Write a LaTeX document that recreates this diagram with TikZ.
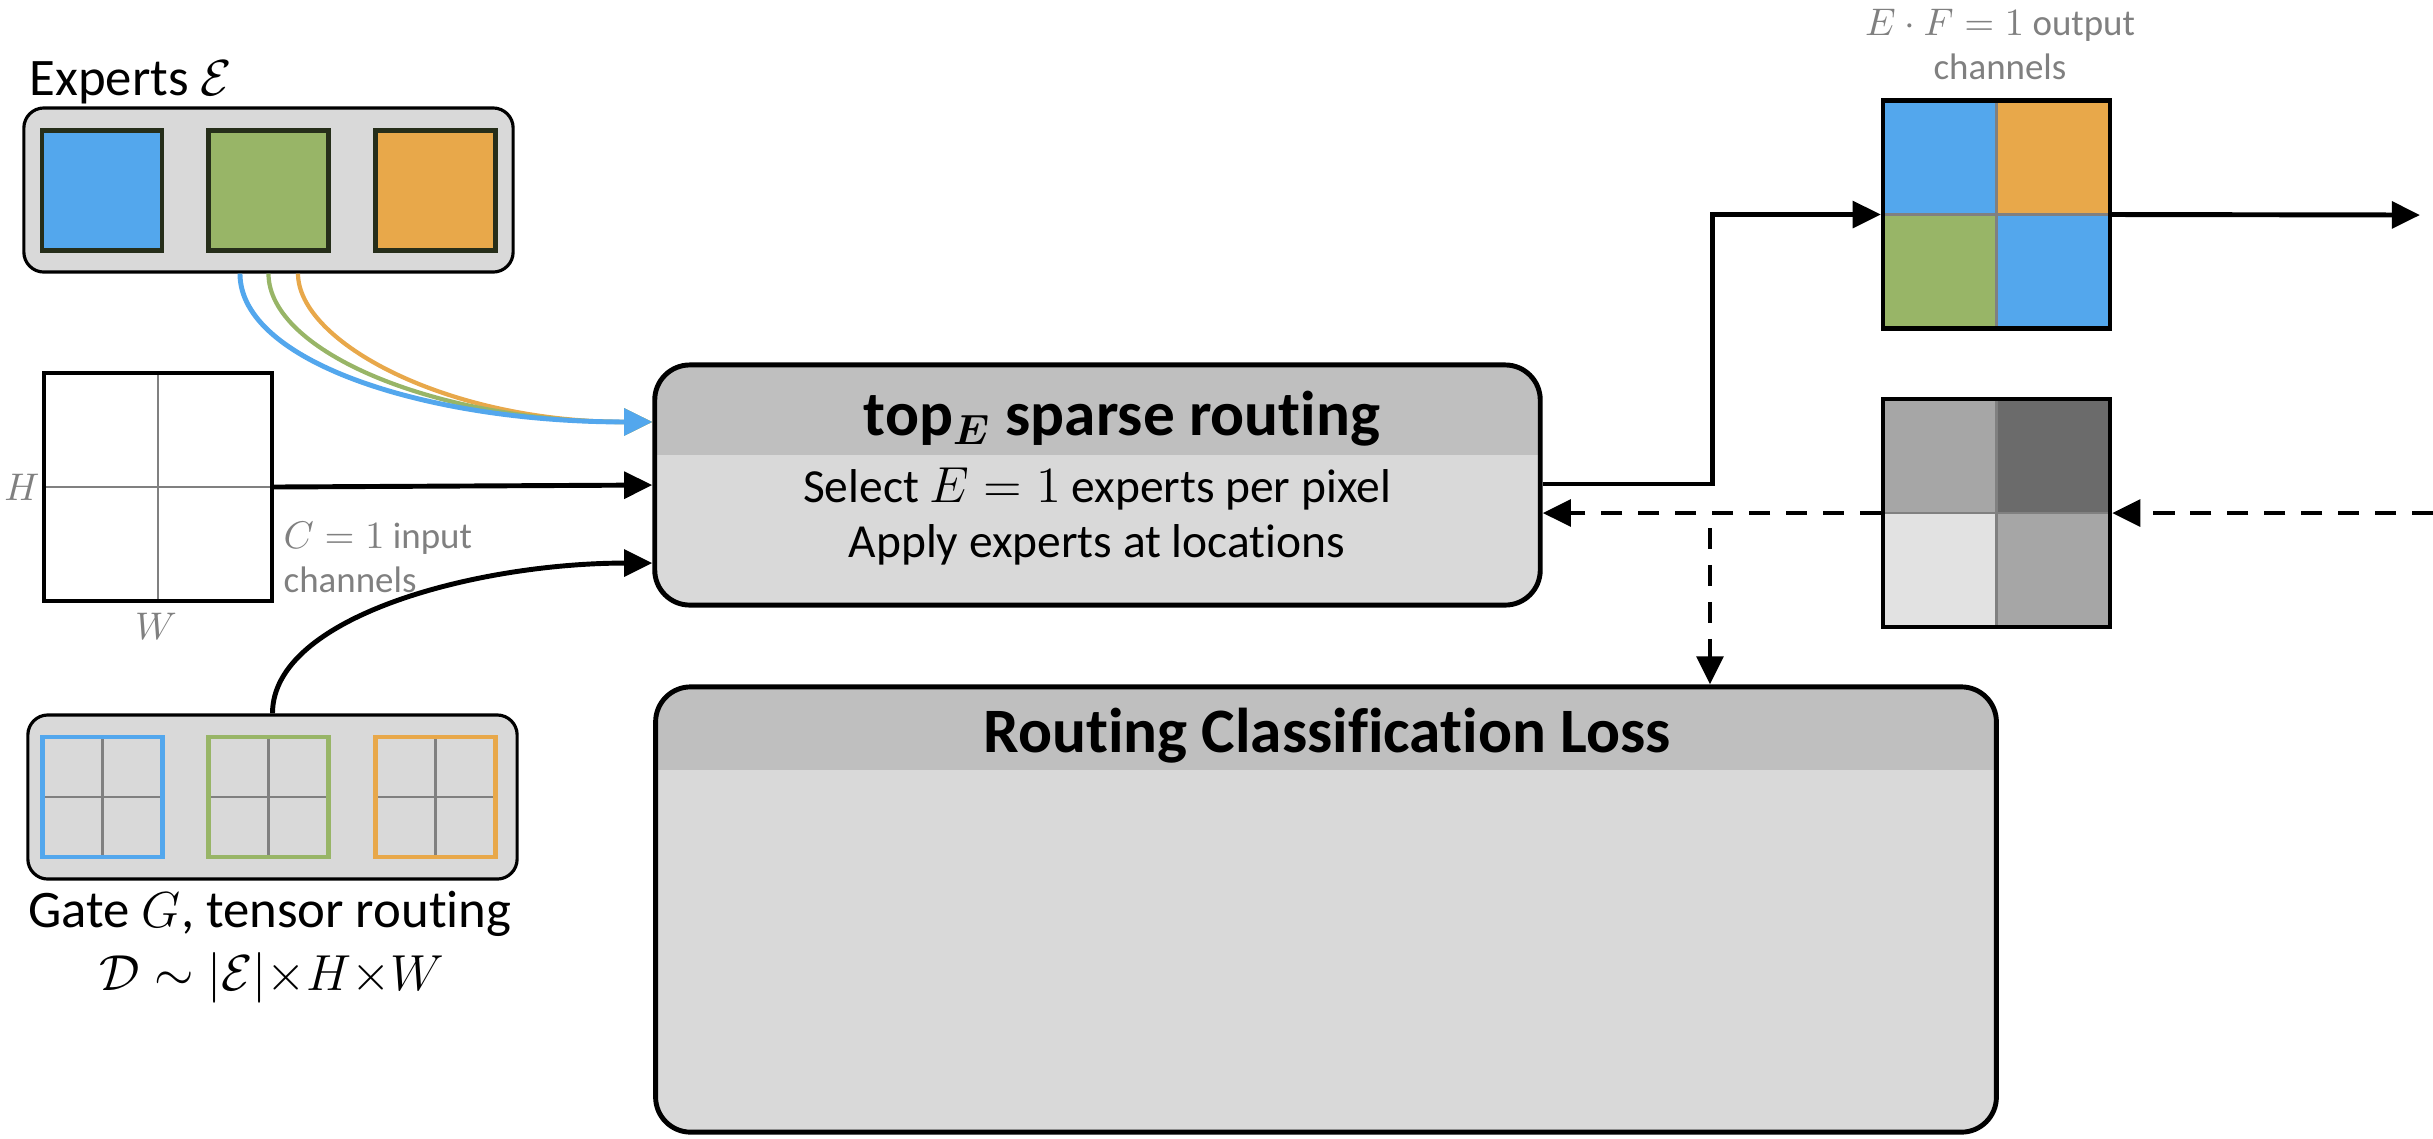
\documentclass[tikz,border=0pt]{standalone}
\usepackage{amsmath,amssymb}
\usepackage{bm}
\usepackage{fontspec}
\setmainfont{Carlito}[Ligatures=NoCommon]
\usetikzlibrary{arrows.meta,positioning,calc}
\definecolor{expblue}{RGB}{83,167,237}
\definecolor{expgreen}{RGB}{152,181,103}
\definecolor{exporange}{RGB}{232,168,74}
\definecolor{expborder}{RGB}{38,46,26}
\definecolor{boxgray}{RGB}{217,217,217}
\definecolor{headgray}{RGB}{191,191,191}
\definecolor{labelgray}{RGB}{128,128,128}
\definecolor{shadeA}{RGB}{166,166,166}
\definecolor{shadeB}{RGB}{107,107,107}
\definecolor{shadeC}{RGB}{226,226,226}

\begin{document}
\begin{tikzpicture}[x=0.01cm, y=-0.01cm,
    conn/.style={line width=1.4pt, -{Triangle[length=8pt,width=7.5pt]}},
    cconn/.style={line width=1.2pt, -{Triangle[length=8pt,width=7.5pt]}},
    dconn/.style={conn, dash pattern=on 6pt off 4.5pt},
    exbox/.style={draw, line width=0.9pt, rounded corners=0.2cm, fill=boxgray, minimum width=4.89cm, minimum height=1.64cm, inner sep=0pt},
    expert/.style={draw=expborder, line width=1.2pt, fill=#1, minimum size=1.2cm, inner sep=0pt},
    gatesq/.style={draw=#1, line width=1.3pt, fill=boxgray, minimum size=1.2cm, inner sep=0pt,
        path picture={\draw[labelgray, line width=0.7pt] (path picture bounding box.north) -- (path picture bounding box.south)
            (path picture bounding box.west) -- (path picture bounding box.east);}},
    ingridbox/.style={draw, line width=1.2pt, fill=white, minimum size=2.28cm, inner sep=0pt,
        path picture={\draw[labelgray, line width=0.7pt] (path picture bounding box.north) -- (path picture bounding box.south)
            (path picture bounding box.west) -- (path picture bounding box.east);}},
    bigbox/.style={draw, line width=1.4pt, rounded corners=0.35cm, fill=boxgray, inner sep=0pt},
    header/.style={path picture={\fill[headgray, sharp corners] (path picture bounding box.north west) rectangle ([yshift=-#1]path picture bounding box.north east);}},
    grid4/.style n args={4}{draw, line width=1.2pt, minimum width=2.27cm, minimum height=2.28cm, inner sep=0pt,
        path picture={
            \fill[#1] (path picture bounding box.north west) rectangle (path picture bounding box.center);
            \fill[#2] (path picture bounding box.north east) rectangle (path picture bounding box.center);
            \fill[#3] (path picture bounding box.south west) rectangle (path picture bounding box.center);
            \fill[#4] (path picture bounding box.south east) rectangle (path picture bounding box.center);
            \draw[labelgray, line width=0.7pt] (path picture bounding box.north) -- (path picture bounding box.south)
                (path picture bounding box.west) -- (path picture bounding box.east);}},
    biglabel/.style={inner sep=0pt, font=\fontsize{15}{18}\selectfont},
    smalllabel/.style={inner sep=0pt, text=labelgray, font=\fontsize{10.5}{12.6}\selectfont},
    title/.style={inner sep=0pt, font=\fontsize{18}{21}\selectfont\bfseries},
    body/.style={inner sep=0pt, font=\fontsize{13.5}{16}\selectfont}]
    \useasboundingbox (0,0) rectangle (2433,1138);

    % experts
    \node[exbox] (experts) at (268.5,190) {};
    \node[expert=expblue] (e1) at (102,190.5) {};
    \node[expert=expgreen] (e2) at (268.5,190.5) {};
    \node[expert=exporange] (e3) at (435.5,190.5) {};
    \node[biglabel, anchor=base west] (explabel) at (29,95) {Experts $\mathcal{E}$};

    % input
    \node[ingridbox] (ingrid) at (158,487) {};
    \node[smalllabel] (hlabel) at (22,487) {$H$};
    \node[smalllabel] (wlabel) at (156,626) {$W$};
    \node[smalllabel, anchor=base west] (clabel) at (283,548) {$C = 1$ input};
    \node[smalllabel, anchor=base west] (clabel2) at (283,592) {channels};

    % gate
    \node[exbox] (gate) at (272.5,797) {};
    \node[gatesq=expblue] (g1) at (102.5,797) {};
    \node[gatesq=expgreen] (g2) at (268.5,797) {};
    \node[gatesq=exporange] (g3) at (435.5,797) {};
    \node[biglabel, anchor=base] (gatelabel) at (270,927) {Gate $G$, tensor routing};
    \node[biglabel, anchor=base] (gatelabel2) at (272,990) {$\mathcal{D} \sim |\mathcal{E}|{\times}H{\times}W$};

    % router
    \node[bigbox, header=0.9cm, minimum width=8.85cm, minimum height=2.4cm] (router) at (1097.5,485) {};
    \node[title, anchor=base] (routertitle) at (1122,435) {top$_{\bm{E}}$ sparse routing};
    \node[body, anchor=base] (select) at (1097,502) {Select $E = 1$ experts per pixel};
    \node[body, anchor=base] (apply) at (1097,557) {Apply experts at locations};

    % loss
    \node[bigbox, header=0.83cm, minimum width=13.4cm, minimum height=4.45cm] (loss) at (1326,909.5) {};
    \node[title, anchor=base] (losstitle) at (1327,752) {Routing Classification Loss};

    % outputs
    \node[grid4={expblue}{exporange}{expgreen}{expblue}] (outgrid) at (1996.5,214.5) {};
    \node[grid4={shadeA}{shadeB}{shadeC}{shadeA}] (graygrid) at (1996.5,513) {};
    \node[smalllabel, anchor=base] (outlabel) at (2000,35) {$E \cdot F = 1$ output};
    \node[smalllabel, anchor=base] (outlabel2) at (2000,79) {channels};

    % connectors
    \draw[cconn, exporange] ([xshift=0.295cm]experts.south) .. controls +(0,68) and +(-206,0) .. ([yshift=0.63cm]router.west);
    \draw[cconn, expgreen] (experts.south) .. controls +(0,78) and +(-216,0) .. ([yshift=0.63cm]router.west);
    \draw[cconn, expblue, line width=1.4pt] ([xshift=-0.285cm]experts.south) .. controls +(0,88) and +(-226,0) .. ([yshift=0.63cm]router.west);
    \draw[conn] (ingrid.east) -- (router.west);
    \draw[conn] (gate.north) .. controls +(0,-97) and +(-175,0) .. ([yshift=-0.78cm]router.west);
    \draw[conn] ([yshift=0.01cm]router.east) -- ++(170,0) |- (outgrid.west);
    \coordinate (outend) at (2420,215);
    \draw[conn] (outgrid.east) -- (outend);
    \coordinate (gradin) at (2433,513);
    \draw[dconn] (gradin) -- (graygrid.east);
    \draw[dconn] (graygrid.west) -- (graygrid.west -| router.east);
    \coordinate (branch) at (1710,513);
    \draw[dconn] ([yshift=-0.15cm]branch) -- (branch |- loss.north);
\end{tikzpicture}
\end{document}
